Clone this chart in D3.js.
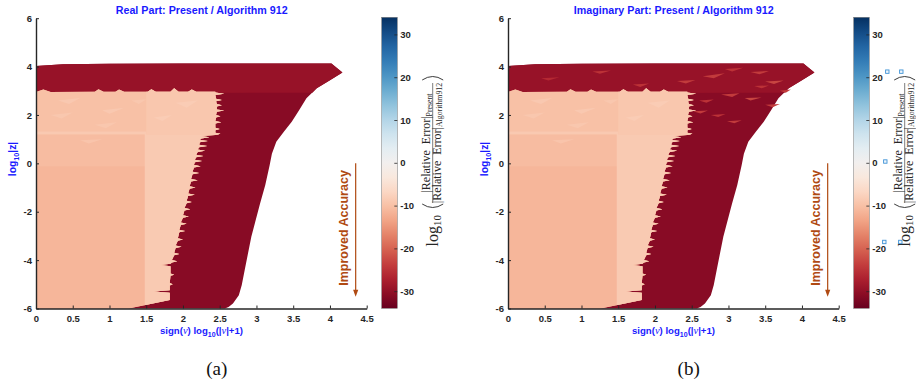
<!DOCTYPE html>
<html><head><meta charset="utf-8">
<script src="https://cdn.jsdelivr.net/npm/d3@7"></script>
<style>body{margin:0;background:#fff}svg{display:block}</style>
</head><body>
<svg id="c" width="916" height="389"></svg>
<script>
// ---------- data ----------
const xTicks = [0, 0.5, 1, 1.5, 2, 2.5, 3, 3.5, 4, 4.5];
const yTicks = [-6, -4, -2, 0, 2, 4, 6];
const cbTicks = [-30, -20, -10, 0, 10, 20, 30];
const cbRange = [-34, 34];
const titles = ["Real Part: Present / Algorithm 912", "Imaginary Part: Present / Algorithm 912"];
const panelTags = ["(a)", "(b)"];

// outline of the computed (x = sign(nu)log10(|nu|+1), y = log10|z|) domain
const domainOutline = [[0,4.02],[0.37,4.1],[1,4.12],[2,4.13],[3,4.13],[4.02,4.13],[4.17,3.76],[4.0,3.44],[3.82,3.1],[3.68,2.69],[3.58,2.2],[3.48,1.72],[3.37,1.3],[3.27,0.89],[3.21,0.4],[3.18,-0.07],[3.12,-0.9],[3.05,-1.65],[2.93,-3.03],[2.84,-4.41],[2.80,-5.03],[2.76,-5.45],[2.68,-5.79],[2.62,-5.94],[2.57,-6],[0,-6]];
const domainValue = -31;
const topBand = [[0,4.02],[0.37,4.1],[1,4.12],[2,4.13],[3,4.13],[4.02,4.13],[4.17,3.76],[4.0,3.44],[3.82,3.1],[3.76,2.92],[0,2.9]];
const topBandValue = -29.5;
// top edge of the light region (left to right)
const lightTop = [[0,2.95],[0.1,3.05],[0.2,2.95],[0.8,2.96],[0.85,3.06],[0.92,2.96],[1.08,2.96],[1.13,3.05],[1.2,2.96],[1.52,2.96],[1.57,3.06],[1.63,2.96],[1.83,2.96],[1.88,3.1],[1.94,2.96],[2.07,2.96],[2.12,3.05],[2.18,2.96],[2.44,2.96]];
// right edge of the light region: [base x, y, spike tip x]
const lightEdge = [[2.44,2.88,2.56],[2.45,2.62,2.53],[2.46,2.40,2.53],[2.46,2.18,2.56],[2.45,1.95,2.51],[2.44,1.70,2.52],[2.44,1.42,2.50],[2.44,1.22,2.51],
 [2.25,1.08,2.36],[2.23,0.92,2.34],[2.22,0.72,2.33],[2.20,0.52,2.30],[2.18,0.30,2.28],[2.16,0.10,2.26],[2.15,-0.12,2.24],[2.13,-0.40,2.22],[2.11,-0.70,2.20],[2.09,-1.0,2.17],[2.07,-1.30,2.16],[2.05,-1.60,2.12],[2.02,-1.90,2.10],[2.00,-2.20,2.08],[1.97,-2.50,2.05],[1.95,-2.80,2.03],[1.93,-3.15,2.00],[1.90,-3.45,1.98],[1.88,-3.75,1.95],[1.85,-4.05,1.92],[1.83,-4.2,1.70],[1.83,-4.6,1.88],[1.82,-5.0,1.86],[1.82,-5.3,1.60],[1.82,-5.42,1.82]];
const lightBottom = [[1.82,-5.65],[1.26,-6.0],[0,-6]];
const lightBase = -10.8;
// [y0, y1, value] bands inside the light region
const lightBands = [[-6,-0.1,-11.3],[-0.1,1.2,-10.6],[1.2,3.2,-10.0]];
// [x0, x1, y0, y1, value] lighter strips near the boundary
const lightStrips = [[1.48,2.7,-6,1.2,-8.8],[1.5,2.7,1.2,3.2,-9.2],[0,1.5,1.23,1.29,-8.9]];
// lighter triangles inside the upper light region: [[x,y]x3, value]
const lightPatches = [
 [[0.3,2.6],[0.6,2.7],[0.45,2.45],-9],[[0.9,2.2],[1.2,2.3],[1.0,2.05],-9],[[1.3,2.6],[1.5,2.65],[1.4,2.45],-9.2],
 [[0.8,1.6],[1.1,1.7],[0.95,1.45],-9.2],[[1.9,2.5],[2.2,2.6],[2.05,2.3],-8.4],[[0.2,2.0],[0.5,2.1],[0.35,1.85],-9.2],
 [[0.6,0.95],[0.9,1.0],[0.72,0.82],-9.5],[[1.6,1.9],[1.85,2.0],[1.72,1.75],-8.4]];
// brighter triangles in the imaginary-part panel: [[x,y]x3, value]
const imagPatches = [
 [[2.65,3.60],[2.95,3.72],[2.80,3.52],-24],[[2.95,3.90],[3.20,3.95],[3.05,3.80],-25],[[3.30,3.78],[3.55,3.82],[3.42,3.68],-24],
 [[3.50,3.38],[3.75,3.42],[3.62,3.28],-23],[[2.90,2.85],[3.15,2.90],[3.05,2.74],-24],[[3.22,2.70],[3.45,2.72],[3.30,2.60],-23],
 [[3.50,2.42],[3.70,2.45],[3.60,2.32],-24],[[2.52,2.15],[2.72,2.18],[2.62,2.06],-24],[[2.76,2.00],[2.96,2.04],[2.86,1.92],-25],
 [[2.98,1.74],[3.18,1.78],[3.08,1.66],-24],[[1.15,3.80],[1.40,3.84],[1.25,3.70],-25],[[0.45,3.52],[0.70,3.56],[0.55,3.42],-26],
 [[1.70,3.26],[1.92,3.30],[1.80,3.16],-25],[[2.30,3.40],[2.55,3.45],[2.42,3.30],-24],[[3.70,3.00],[3.85,3.05],[3.78,2.92],-24],
 [[3.35,3.20],[3.55,3.22],[3.45,3.10],-25],[[2.60,2.60],[2.80,2.64],[2.70,2.50],-25]];
// colour-bar helper marks visible in panel (b): [value, dx]
const cbMarks = [[21.3,18],[21.3,32],[0.3,16],[-18.5,15],[-18.5,31]];

// ---------- drawing ----------
const svg = d3.select("#c");
const color = d3.scaleSequential(d3.interpolateRdBu).domain(cbRange);
const SANS = '"Liberation Sans", Arial, sans-serif';
const SERIF = '"Liberation Serif", "Times New Roman", serif';
const AX = "#262626", BLUE = "#1a1aff", BROWN = "#b04a12";

const defs = svg.append("defs");
const grad = defs.append("linearGradient").attr("id","cbg").attr("x1",0).attr("y1",1).attr("x2",0).attr("y2",0);
d3.range(0, 1.0001, 0.05).forEach(t => grad.append("stop").attr("offset", t).attr("stop-color", color(cbRange[0] + t*(cbRange[1]-cbRange[0]))));

// build the light-region outline from its pieces
const lightOutline = lightTop.concat(
  lightEdge.flatMap(e => [[e[0], e[1]+0.05], [e[2], e[1]], [e[0], e[1]-0.05]]),
  lightBottom);

function drawPanel(i){
  const ox = i*472;
  const x = d3.scaleLinear().domain([0,4.5]).range([ox+36, ox+366.7]);
  const y = d3.scaleLinear().domain([-6,6]).range([308.5, 18.2]);
  const line = d3.line().x(d=>x(d[0])).y(d=>y(d[1]));
  const g = svg.append("g");

  defs.append("clipPath").attr("id","lc"+i).append("path").attr("d", line(lightOutline)+"Z");
  g.append("path").attr("d", line(domainOutline)+"Z").attr("fill", color(domainValue));
  g.append("path").attr("d", line(topBand)+"Z").attr("fill", color(topBandValue));
  if(i===1){
    imagPatches.forEach(p => g.append("path").attr("d", line(p.slice(0,3))+"Z").attr("fill", color(p[3])));
  }
  g.append("path").attr("d", line(lightOutline)+"Z").attr("fill", color(lightBase));
  const lg = g.append("g").attr("clip-path", `url(#lc${i})`);
  lightBands.forEach(b => lg.append("rect").attr("x", x(0)).attr("width", x(4.5)-x(0))
     .attr("y", y(b[1])-0.6).attr("height", y(b[0])-y(b[1])+1.2).attr("fill", color(b[2])));
  lightStrips.forEach(s => lg.append("rect").attr("x", x(s[0])).attr("width", x(s[1])-x(s[0]))
     .attr("y", y(s[3])-0.6).attr("height", y(s[2])-y(s[3])+1.2).attr("fill", color(s[4])));
  lightPatches.forEach(p => lg.append("path").attr("d", line(p.slice(0,3))+"Z").attr("fill", color(p[3])));

  // axes
  const ya = g.append("g").attr("transform", `translate(${x(0)},0)`)
    .call(d3.axisLeft(y).tickValues(yTicks).tickSize(-3).tickSizeOuter(0).tickPadding(4).tickFormat(d=>String(d)));
  const xa = g.append("g").attr("transform", `translate(0,${y(-6)})`)
    .call(d3.axisBottom(x).tickValues(xTicks).tickSize(-3).tickSizeOuter(0).tickPadding(6.5).tickFormat(d=>String(d)));
  [ya, xa].forEach(a => {
    a.select(".domain").attr("stroke", AX).attr("stroke-width", 1.4);
    a.selectAll(".tick line").attr("stroke", AX).attr("stroke-width", 1);
    a.selectAll("text").attr("fill", AX).style("font-family", SANS).style("font-weight","bold").style("font-size","9.5px");
  });

  // title
  g.append("text").attr("x", ox+201.7).attr("y", 13.5).attr("text-anchor","middle")
    .style("font-family", SANS).style("font-weight","bold").style("font-size","10.7px").attr("fill", BLUE).text(titles[i]);

  // x label
  const xl = g.append("text").attr("x", ox+201.5).attr("y", 334).attr("text-anchor","middle")
    .style("font-family", SANS).style("font-weight","bold").style("font-size","9.6px").attr("fill", BLUE);
  xl.append("tspan").text("sign(");
  xl.append("tspan").style("font-family", SERIF).style("font-style","italic").style("font-weight","normal").style("font-size","10.5px").text("\u03bd");
  xl.append("tspan").text(") log");
  xl.append("tspan").attr("dy", 2.8).style("font-size","7px").text("10");
  xl.append("tspan").attr("dy", -2.8).text("(|");
  xl.append("tspan").style("font-family", SERIF).style("font-style","italic").style("font-weight","normal").style("font-size","10.5px").text("\u03bd");
  xl.append("tspan").text("|+1)");

  // y label
  const yl = g.append("text").attr("transform", `translate(${ox+15.5},159) rotate(-90)`).attr("text-anchor","middle")
    .style("font-family", SANS).style("font-weight","bold").style("font-size","10.3px").attr("fill", BLUE);
  yl.append("tspan").text("log");
  yl.append("tspan").attr("dy", 3).style("font-size","7.2px").text("10");
  yl.append("tspan").attr("dy", -3).text("|z|");

  // panel tag
  g.append("text").attr("x", ox+216.7).attr("y", 375).attr("text-anchor","middle")
    .style("font-family", SERIF).style("font-size","19px").attr("fill","#111").text(panelTags[i]);

  // improved accuracy annotation
  g.append("text").attr("transform", `translate(${x(4.245)},${y(-2.67)}) rotate(-90)`).attr("text-anchor","middle")
    .style("font-family", SANS).style("font-weight","bold").style("font-size","12.5px").attr("fill", BROWN).text("Improved Accuracy");
  const ax0 = x(4.35), ay0 = y(0), ay1 = y(-5.51);
  g.append("line").attr("x1", ax0).attr("x2", ax0).attr("y1", ay0).attr("y2", ay1-4).attr("stroke", BROWN).attr("stroke-width", 1.2);
  g.append("path").attr("d", `M${ax0},${ay1} L${ax0-2.6},${ay1-7} L${ax0+2.6},${ay1-7} Z`).attr("fill", BROWN);

  // colorbar
  const cx0 = ox+381.7, cw = 15.6;
  const cy = d3.scaleLinear().domain(cbRange).range([308.3, 17.3]);
  g.append("rect").attr("x", cx0).attr("y", cy(cbRange[1])).attr("width", cw).attr("height", cy(cbRange[0])-cy(cbRange[1]))
    .attr("fill","url(#cbg)").attr("stroke","#777").attr("stroke-width",0.5);
  const ca = g.append("g").attr("transform", `translate(${cx0+cw},0)`)
    .call(d3.axisRight(cy).tickValues(cbTicks).tickSize(-3).tickSizeOuter(0).tickPadding(3).tickFormat(d=>String(d)));
  ca.select(".domain").remove();
  ca.selectAll(".tick line").attr("stroke", AX).attr("stroke-width", 0.8);
  ca.selectAll("text").attr("fill", AX).style("font-family", SANS).style("font-weight","bold").style("font-size","9.5px");

  // colorbar label (rotated fraction)
  const lb = g.append("g").attr("transform", `translate(${ox+432.2},143) rotate(-90)`)
    .style("font-family", SERIF).attr("fill", AX);
  const num = lb.append("text").attr("x", 0).attr("y", -2.3).attr("text-anchor","middle").style("font-size","12px");
  num.append("tspan").text("|Relative\u00a0 Error|");
  num.append("tspan").attr("dy", 2).style("font-size","7.8px").text("Present");
  const den = lb.append("text").attr("x", 0).attr("y", 8.6).attr("text-anchor","middle").style("font-size","12px");
  den.append("tspan").text("|Relative\u00a0 Error|");
  den.append("tspan").attr("dy", 1.6).style("font-size","7.8px").text("Algorithm912");
  lb.append("line").attr("x1", -60).attr("x2", 60).attr("y1", 0.5).attr("y2", 0.5).attr("stroke", AX).attr("stroke-width", 0.6);
  lb.append("path").attr("d", "M-61,-10 Q-68,0.5 -61,11").attr("fill","none").attr("stroke", AX).attr("stroke-width", 0.9);
  lb.append("path").attr("d", "M63,-10 Q70,0.5 63,11").attr("fill","none").attr("stroke", AX).attr("stroke-width", 0.9);
  const lg10 = lb.append("text").attr("x", -72).attr("y", 5.5).attr("text-anchor","end").style("font-size","16px");
  lg10.append("tspan").text("log");
  lg10.append("tspan").attr("dy", 3).style("font-size","11px").text("10");

  if(i===1){
    cbMarks.forEach(m => g.append("rect").attr("x", cx0+cw+m[1]-1.7).attr("y", cy(m[0])-1.7).attr("width",3.4).attr("height",3.4)
      .attr("fill","#eef5fc").attr("stroke","#3f93d6").attr("stroke-width",0.9));
  }
}
drawPanel(0);
drawPanel(1);
</script>
</body></html>
